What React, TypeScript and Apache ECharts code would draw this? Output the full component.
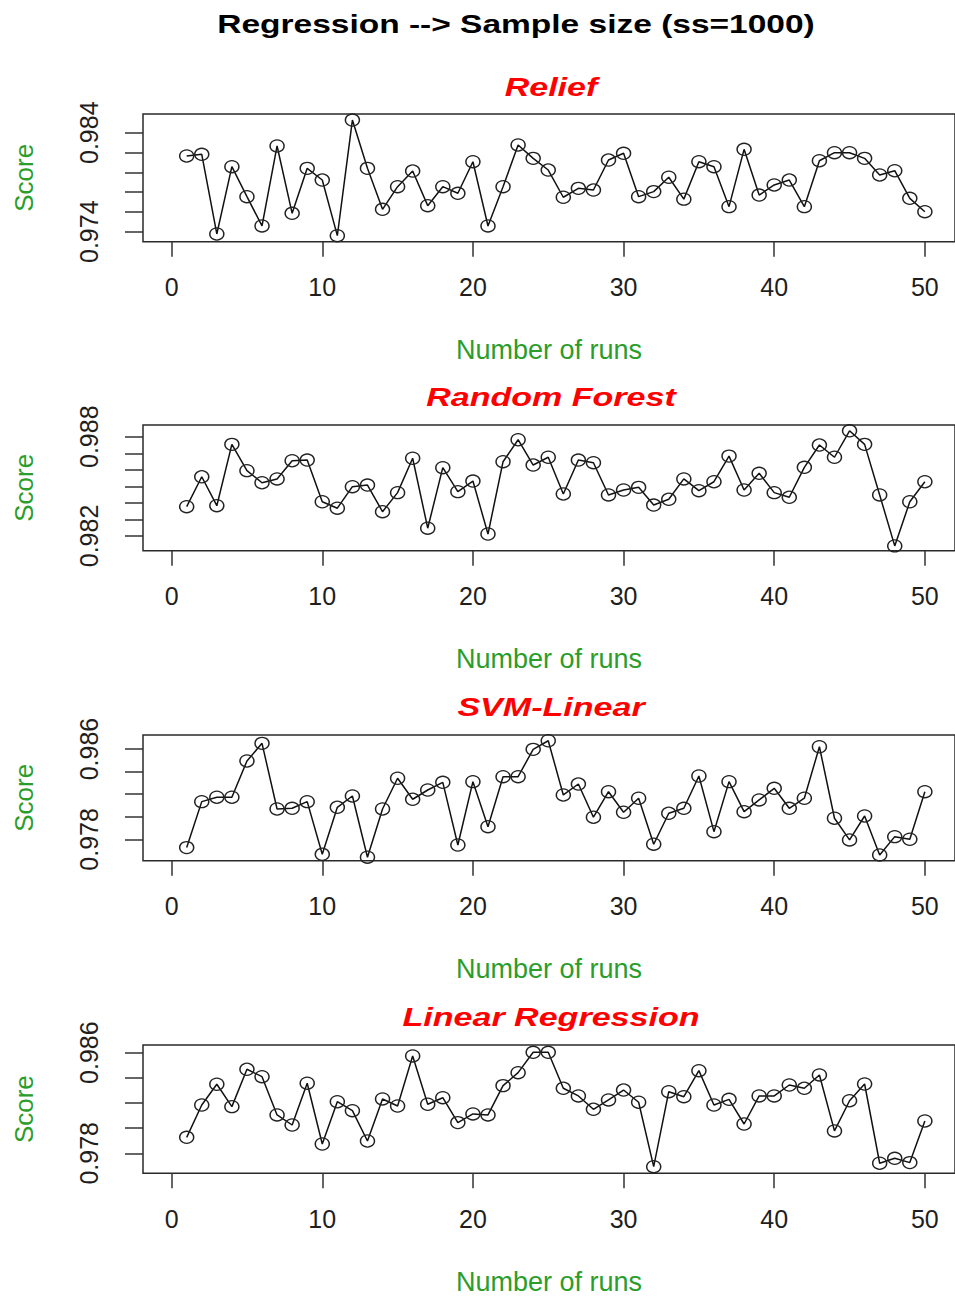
import React, { useEffect, useRef } from "react";
import * as echarts from "echarts";

const mainTitle = "Regression --> Sample size (ss=1000)";
const panelTitles = ["Relief", "Random Forest", "SVM-Linear", "Linear Regression"];
const xName = "Number of runs";
const yName = "Score";

const runs = [
  1, 2, 3, 4, 5, 6, 7, 8, 9, 10, 11, 12, 13, 14, 15, 16, 17, 18, 19, 20, 21, 22, 23, 24, 25,
  26, 27, 28, 29, 30, 31, 32, 33, 34, 35, 36, 37, 38, 39, 40, 41, 42, 43, 44, 45, 46, 47, 48, 49, 50,
];

const relief = [
  0.98165, 0.98182, 0.97377, 0.98057, 0.97754, 0.97458, 0.98266, 0.97586, 0.9804, 0.97922,
  0.9736, 0.98528, 0.9804, 0.97626, 0.97855, 0.98013, 0.97663, 0.97855, 0.97788, 0.98107,
  0.97458, 0.97855, 0.98276, 0.98141, 0.98023, 0.97748, 0.97838, 0.97821, 0.98124, 0.98192,
  0.97754, 0.97805, 0.9795, 0.97729, 0.98107, 0.98057, 0.97653, 0.98232, 0.9777, 0.97872,
  0.97922, 0.97653, 0.98117, 0.98198, 0.98198, 0.98141, 0.97973, 0.98016, 0.97737, 0.97602,
];

const randomForest = [
  0.98377, 0.98558, 0.98383, 0.98754, 0.98595, 0.98522, 0.98545, 0.98655, 0.98659, 0.98407,
  0.98368, 0.98498, 0.98508, 0.98347, 0.98462, 0.9867, 0.98247, 0.98613, 0.98468, 0.98532,
  0.98212, 0.98649, 0.98782, 0.98629, 0.98676, 0.98454, 0.98659, 0.98643, 0.98448, 0.98478,
  0.98494, 0.98387, 0.98422, 0.98545, 0.98474, 0.98528, 0.98683, 0.98478, 0.98579, 0.98462,
  0.98434, 0.98615, 0.9875, 0.98676, 0.98836, 0.98754, 0.98448, 0.9814, 0.98407, 0.98528,
];

const svmLinear = [
  0.97727, 0.98134, 0.98173, 0.98173, 0.98494, 0.9865, 0.98069, 0.98075, 0.98134, 0.97668,
  0.98084, 0.98184, 0.97642, 0.98069, 0.98341, 0.98155, 0.98237, 0.98305, 0.9775, 0.98311,
  0.97912, 0.98355, 0.98355, 0.98597, 0.98673, 0.98193, 0.9829, 0.97996, 0.98222, 0.9804,
  0.98164, 0.97757, 0.98031, 0.98075, 0.98361, 0.97868, 0.98311, 0.98045, 0.98149, 0.98252,
  0.98075, 0.98164, 0.9862, 0.97987, 0.97795, 0.98007, 0.97662, 0.97824, 0.97801, 0.98222,
];

const linearRegression = [
  0.97927, 0.98184, 0.98349, 0.98171, 0.98468, 0.98409, 0.98105, 0.98025, 0.98357, 0.97874,
  0.9821, 0.98139, 0.97898, 0.98232, 0.98176, 0.98574, 0.9819, 0.98242, 0.98044, 0.98113,
  0.98105, 0.98338, 0.98441, 0.98603, 0.98603, 0.98317, 0.98256, 0.9815, 0.98224, 0.98303,
  0.98206, 0.97694, 0.9829, 0.9825, 0.98457, 0.98184, 0.98229, 0.98033, 0.98256, 0.98256,
  0.98343, 0.98317, 0.98423, 0.97978, 0.98218, 0.98351, 0.97721, 0.9776, 0.97726, 0.98057,
];

const xTicks = [0, 10, 20, 30, 40, 50];
const xLimits = [-1.9, 52];

const yTicks1 = [0.974, 0.976, 0.978, 0.98, 0.982, 0.984];
const yLabels1 = [0.974, 0.984];
const yTicks2 = [0.982, 0.983, 0.984, 0.985, 0.986, 0.987, 0.988];
const yLabels2 = [0.982, 0.988];
const yTicks3 = [0.978, 0.98, 0.982, 0.984, 0.986];
const yLabels3 = [0.978, 0.986];
const yTicks4 = [0.978, 0.98, 0.982, 0.984, 0.986];
const yLabels4 = [0.978, 0.986];

const yLimits = [
  [0.97299, 0.98589],
  [0.98111, 0.98871],
  [0.97611, 0.98724],
  [0.97641, 0.98661],
];

const seriesList = [relief, randomForest, svmLinear, linearRegression];
const yTickList = [yTicks1, yTicks2, yTicks3, yTicks4];
const yLabelList = [yLabels1, yLabels2, yLabels3, yLabels4];

// layout (pixels)
const gridTops = [114, 425, 735, 1045];
const gridHeights = [127.7, 125.7, 125.7, 128.3];
const gridLeft = 143;
const gridWidth = 815.5;
const titleYs = [87, 397, 707, 1017];

const FONT = "'Liberation Sans', Arial, Helvetica, sans-serif";
const GREEN = "#2a9d2a";

export default function App() {
  const ref = useRef<HTMLDivElement>(null);

  useEffect(() => {
    if (!ref.current) return;
    const chart = echarts.init(ref.current, null, { renderer: "svg" });

    const grids = gridTops.map((top, i) => ({
      left: gridLeft,
      top,
      width: gridWidth,
      height: gridHeights[i],
      show: true,
      borderColor: "#2a2a2a",
      borderWidth: 1.5,
      backgroundColor: "transparent",
      containLabel: false,
    }));

    const xAxes = gridTops.map((_, i) => ({
      type: "value",
      gridIndex: i,
      min: xLimits[0],
      max: xLimits[1],
      name: xName,
      nameLocation: "middle",
      nameGap: 95,
      nameTextStyle: { color: GREEN, fontSize: 27, fontFamily: FONT },
      axisLine: { show: false, onZero: false },
      splitLine: { show: false },
      axisTick: {
        show: true,
        length: 15,
        customValues: xTicks,
        lineStyle: { color: "#333", width: 1.5 },
      },
      axisLabel: {
        show: true,
        customValues: xTicks,
        margin: 33,
        fontSize: 25,
        color: "#1e1e1e",
        fontFamily: FONT,
      },
    }));

    const yAxes = gridTops.map((_, i) => ({
      type: "value",
      gridIndex: i,
      min: yLimits[i][0],
      max: yLimits[i][1],
      name: yName,
      nameLocation: "middle",
      nameGap: 106,
      nameTextStyle: { color: GREEN, fontSize: 26, fontFamily: FONT },
      axisLine: { show: false, onZero: false },
      splitLine: { show: false },
      axisTick: {
        show: true,
        length: 18,
        customValues: yTickList[i],
        lineStyle: { color: "#333", width: 1.5 },
      },
      axisLabel: {
        show: true,
        customValues: yLabelList[i],
        rotate: 90,
        margin: 42,
        fontSize: 25,
        color: "#1e1e1e",
        fontFamily: FONT,
        formatter: (v: number) => v.toFixed(3),
      },
    }));

    const series = seriesList.map((vals, i) => ({
      type: "line",
      xAxisIndex: i,
      yAxisIndex: i,
      data: runs.map((r, j) => [r, vals[j]]),
      symbol: "circle",
      symbolSize: [14, 12],
      showSymbol: true,
      clip: true,
      silent: true,
      lineStyle: { color: "#111", width: 1.5 },
      itemStyle: { color: "rgba(0,0,0,0)", borderColor: "#222", borderWidth: 1.4 },
      emphasis: { disabled: true },
    }));

    const graphic: any[] = [
      {
        type: "text",
        x: 516,
        y: 24,
        scaleX: 1.34,
        style: {
          text: mainTitle,
          fill: "#000",
          fontSize: 25,
          fontWeight: "bold",
          fontFamily: FONT,
          align: "center",
          verticalAlign: "middle",
          textAlign: "center",
          textVerticalAlign: "middle",
        },
      },
      ...panelTitles.map((t, i) => ({
        type: "text",
        x: 551,
        y: titleYs[i],
        scaleX: 1.31,
        style: {
          text: t,
          fill: "#ff0000",
          fontSize: 26,
          fontWeight: "bold",
          fontStyle: "italic",
          fontFamily: FONT,
          align: "center",
          verticalAlign: "middle",
          textAlign: "center",
          textVerticalAlign: "middle",
        },
      })),
    ];

    chart.setOption({
      animation: false,
      backgroundColor: "#ffffff",
      grid: grids,
      xAxis: xAxes,
      yAxis: yAxes,
      series,
      graphic,
    });

    return () => chart.dispose();
  }, []);

  return (
    <div
      ref={ref}
      style={{ position: "absolute", left: 0, top: 0, width: 955, height: 1297 }}
    />
  );
}
